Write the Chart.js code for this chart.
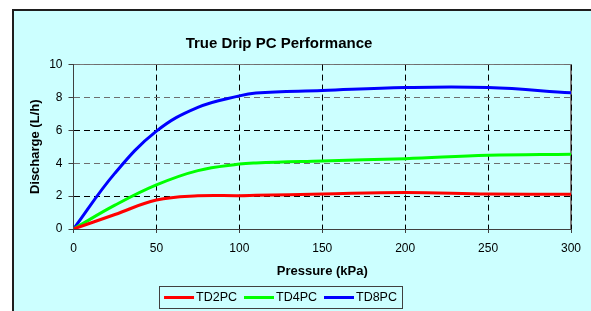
<!DOCTYPE html>
<html><head><meta charset="utf-8">
<script src="https://cdn.jsdelivr.net/npm/chart.js@4.4.1/dist/chart.umd.min.js"></script>
<style>
html,body{margin:0;padding:0;background:#fff;overflow:hidden;width:591px;height:311px;}
#frame{position:absolute;left:12px;top:9px;width:700px;height:400px;border:2px solid #1e1e1e;background:#CCFFFF;}
#c{position:absolute;left:0;top:0;}
</style></head><body>
<div id="frame"></div>
<canvas id="c" width="591" height="311"></canvas>
<script>
const chartTitle = 'True Drip PC Performance';
const xTitle = 'Pressure (kPa)';
const yTitle = 'Discharge (L/h)';
const seriesNames = ['TD2PC', 'TD4PC', 'TD8PC'];
const seriesColors = ['#FF0000', '#00FF00', '#0000FF'];
const pressures = [0, 25, 50, 75, 100, 110, 150, 200, 250, 300];
const td2 = [0, 0.88, 1.76, 2.02, 2.03, 2.05, 2.13, 2.22, 2.13, 2.11];
const td4 = [0, 1.45, 2.68, 3.55, 3.95, 4.02, 4.14, 4.28, 4.48, 4.55];
const td8 = [0, 3.4, 5.95, 7.4, 8.1, 8.27, 8.42, 8.6, 8.6, 8.28];
const xTicks = [0, 50, 100, 150, 200, 250, 300];
const yTicks = [0, 2, 4, 6, 8, 10];

const FONT = "'Liberation Sans', Arial, Helvetica, sans-serif";
const toPts = arr => arr.map((v, i) => ({x: pressures[i], y: v}));
const alignPx = (p, w) => { const o = (w % 2) ? 0.5 : 0; return Math.round(p - o) + o; };

const framePlugin = {
  id: 'plotFrame',
  beforeDraw(chart) {
    const {ctx, chartArea: a} = chart;
    ctx.save();
    ctx.strokeStyle = '#7a7a7a';
    ctx.lineWidth = 1;
    const t = alignPx(a.top, 1);
    ctx.beginPath(); ctx.moveTo(a.left, t); ctx.lineTo(a.right, t); ctx.stroke();
    ctx.lineWidth = 2;
    const r = alignPx(a.right, 2);
    ctx.beginPath(); ctx.moveTo(r, a.top); ctx.lineTo(r, a.bottom); ctx.stroke();
    ctx.restore();
  }
};

const shiftTitle = {
  id: 'shiftTitle',
  afterLayout(chart) {
    const t = chart.titleBlock;
    if (t) { const w = t.right - t.left; const cx = 279; t.left = cx - w / 2; t.right = cx + w / 2; }
  }
};

const boxLegend = {
  id: 'boxLegend',
  afterDraw(chart) {
    const ctx = chart.ctx;
    ctx.save();
    ctx.font = '12.5px ' + FONT;
    const items = chart.data.datasets.map(d => ({label: d.label, color: d.borderColor, w: ctx.measureText(d.label).width}));
    const lineW = 30, gapLT = 2, gapItem = 7, padX = 5;
    const total = items.reduce((s, it) => s + lineW + gapLT + it.w, 0) + gapItem * (items.length - 1);
    const cx = 280.5, cy = 297.5;
    let x = cx - total / 2;
    ctx.strokeStyle = '#404040'; ctx.lineWidth = 1;
    ctx.strokeRect(Math.round(x - padX) + 0.5, 286.5, Math.round(total + 2 * padX), 22);
    ctx.textBaseline = 'middle'; ctx.textAlign = 'left'; ctx.fillStyle = '#000';
    for (const it of items) {
      ctx.strokeStyle = it.color; ctx.lineWidth = 3;
      ctx.beginPath(); ctx.moveTo(x, cy); ctx.lineTo(x + lineW, cy); ctx.stroke();
      x += lineW + gapLT;
      ctx.fillText(it.label, x, cy);
      x += it.w + gapItem;
    }
    ctx.restore();
  }
};

const allSeries = [td2, td4, td8];
new Chart(document.getElementById('c'), {
  type: 'line',
  data: {
    datasets: allSeries.map((s, i) => ({
      label: seriesNames[i], data: toPts(s), borderColor: seriesColors[i], backgroundColor: seriesColors[i],
      borderWidth: 3, pointRadius: 0, fill: false, tension: 0.4
    }))
  },
  options: {
    responsive: false, animation: false, devicePixelRatio: 1,
    layout: {padding: {left: 14, right: 20, top: 0, bottom: 32}},
    plugins: {
      legend: {display: false}, tooltip: {enabled: false},
      title: {display: true, text: chartTitle, color: '#000',
        font: {family: FONT, size: 15, weight: 'bold'}, padding: {top: 34.5, bottom: 12.1}}
    },
    scales: {
      x: {
        type: 'linear', min: xTicks[0], max: xTicks[xTicks.length - 1],
        afterBuildTicks: s => { s.ticks = xTicks.map(v => ({value: v})); },
        ticks: {font: {family: FONT, size: 12}, color: '#000', padding: 8, maxRotation: 0},
        grid: {color: '#000', lineWidth: 1, tickLength: 4, tickColor: '#404040', tickWidth: 1},
        border: {color: '#404040', width: 1, dash: [6, 4]},
        title: {display: true, text: xTitle, color: '#000', font: {family: FONT, size: 13, weight: 'bold'}, padding: {top: 0, bottom: 0}},
        afterFit(s) { s.height = 50; }
      },
      y: {
        min: yTicks[0], max: yTicks[yTicks.length - 1],
        afterBuildTicks: s => { s.ticks = yTicks.map(v => ({value: v})); },
        ticks: {font: {family: FONT, size: 12}, color: '#000', padding: 6},
        grid: {color: c => (c.tick && [4, 8, 10].includes(c.tick.value)) ? '#6e6e6e' : '#000',
          lineWidth: 1, tickLength: 5, tickColor: '#404040', tickWidth: 1},
        border: {color: '#404040', width: 1, dash: [6, 4]},
        title: {display: true, text: yTitle, color: '#000', font: {family: FONT, size: 13, weight: 'bold'}, padding: {top: 13.2, bottom: 0}},
        afterFit(s) { s.width = 59.5; }
      }
    }
  },
  plugins: [framePlugin, shiftTitle, boxLegend]
});
</script>
</body></html>
